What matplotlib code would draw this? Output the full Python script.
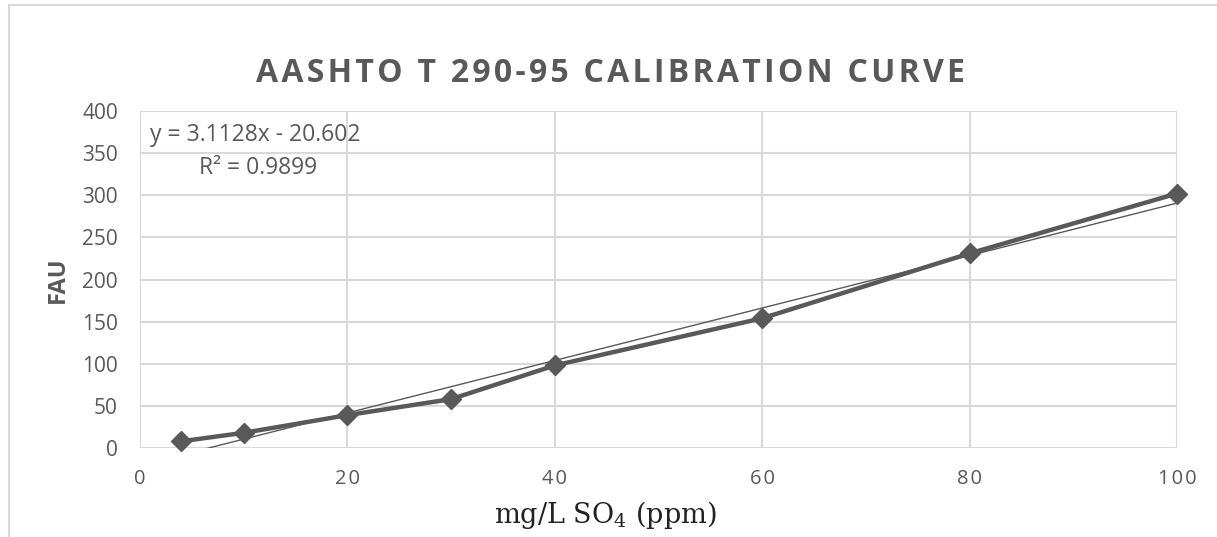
import numpy as np
import matplotlib.pyplot as plt
from matplotlib.patches import Rectangle

# data
conc = [4, 10, 20, 30, 40, 60, 80, 100]
fau = [8, 18, 39, 58, 98, 154, 231, 302]
slope = 3.1128
intercept = -20.602
r2 = 0.9899
x_ticks = [0, 20, 40, 60, 80, 100]
y_ticks = [0, 50, 100, 150, 200, 250, 300, 350, 400]

grey = '#595959'
grid_c = '#d9d9d9'
HS = '\u200a'


def spaced(s):
    return HS.join(s)


plt.rcParams['font.family'] = ['Open Sans', 'DejaVu Sans']
plt.rcParams['mathtext.fontset'] = 'dejavuserif'

fig = plt.figure(figsize=(12.17, 5.37), dpi=100)
fig.patches.append(Rectangle((9 / 1217, -0.1), 1.2, 1.1 - 5 / 537, transform=fig.transFigure,
                             fill=False, edgecolor=grid_c, linewidth=1.5))
ax = fig.add_axes([140 / 1217, 1 - 448 / 537, (1177 - 140) / 1217, (448 - 111) / 537])

# trend line over data range
tx = np.linspace(min(conc), max(conc), 200)
ty = slope * tx + intercept
ax.plot(tx, ty, color=grey, linewidth=1.0, zorder=3)
ax.plot(conc, fau, color=grey, linewidth=3.2, marker='D', markersize=10,
        zorder=4, clip_on=False)

ax.set_xlim(0, 100)
ax.set_ylim(0, 400)
ax.set_xticks(x_ticks)
ax.set_xticklabels([spaced(str(t)) for t in x_ticks])
ax.set_yticks(y_ticks)
ax.grid(True, color=grid_c, linewidth=1.5)
ax.set_axisbelow(True)
for sp in ax.spines.values():
    sp.set_visible(False)
ax.tick_params(length=0, labelsize=15, colors=grey)
ax.tick_params(axis='x', pad=15, labelsize=14.5)
ax.tick_params(axis='y', pad=16)

ax.text(0.01, 371, 'y = 3.1128x - 20.602', fontsize=16.5, color=grey,
        va='center', ha='left', transform=ax.get_yaxis_transform())
ax.text(0.114, 332, 'R² = 0.9899', fontsize=16.5, color=grey,
        va='center', ha='center', transform=ax.get_yaxis_transform())

ax.set_ylabel('FAU', fontsize=17, fontweight='bold', color=grey)
ax.yaxis.set_label_coords((70 - 140) / 1037, 0.5)
fig.text(605 / 1217, 1 - 515 / 537, r'mg/L SO$_4$ (ppm)', fontsize=19.5,
         family='DejaVu Serif', color='#222222', ha='center', va='center')

fig.text(610 / 1217, 1 - 73 / 537, spaced('AASHTO T 290-95 CALIBRATION CURVE'),
         fontsize=23, fontweight='bold', color=grey, ha='center', va='center')

fig.savefig('out.png', dpi=100)
